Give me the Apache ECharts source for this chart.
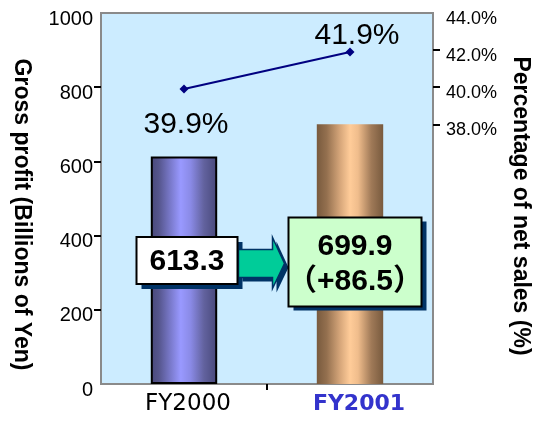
<!DOCTYPE html>
<html>
<head>
<meta charset="utf-8">
<script src="https://cdn.jsdelivr.net/npm/echarts@6/dist/echarts.min.js"></script>
<style>
html,body{margin:0;padding:0;background:#fff;}
#main{width:536px;height:421px;}
</style>
</head>
<body>
<div id="main"></div>
<script>
const categories = ['FY2000', 'FY2001'];
const grossProfit = [613.3, 699.9];
const netSalesPct = [39.9, 41.9];
const leftTickValues = [200, 400, 600, 800];
const rightLabelValues = [38, 40, 42, 44];
const rightTickValues = [38, 40, 42];
const boxPrev = '613.3';
const boxCurrLines = ['699.9', '（+86.5）'];

const FONT = 'Liberation Sans, Arial, sans-serif';
const chart = echarts.init(document.getElementById('main'), null, {renderer: 'canvas'});

function hGrad(stops) {
  return new echarts.graphic.LinearGradient(0, 0, 1, 0, stops.map(s => ({offset: s[0], color: s[1]})));
}
const barStyles = [
  {color: hGrad([[0,'#48487a'],[0.12,'#55558c'],[0.3,'#7a7acc'],[0.45,'#9999ff'],[0.6,'#8a8ae6'],[0.8,'#62629e'],[1,'#48487a']]), borderColor: '#000', borderWidth: 2},
  {color: hGrad([[0,'#785a3e'],[0.15,'#94704f'],[0.35,'#d6a67a'],[0.5,'#ffcc99'],[0.62,'#f0bd8c'],[0.82,'#a07a58'],[1,'#785a3e']]), borderWidth: 0}
];

const option = {
  animation: false,
  backgroundColor: '#ffffff',
  grid: {left: 101, right: 103, top: 13, bottom: 37, show: true, backgroundColor: '#CCECFF', borderColor: '#8a8a8a', borderWidth: 2, outerBoundsMode: 'none', containLabel: false},
  xAxis: [
    {
      type: 'category', data: categories,
      axisLine: {show: false}, axisTick: {show: false}, splitLine: {show: false},
      axisLabel: {
        margin: 9,
        formatter: v => v === categories[1] ? '{b|' + v + '}' : '{a|' + v + '}',
        rich: {
          a: {fontFamily: 'DejaVu Sans', fontSize: 23, color: '#000', padding: [0, 0, 0, 8]},
          b: {fontFamily: 'DejaVu Sans', fontSize: 22, fontWeight: 'bold', color: '#3333CC', padding: [0, 0, 0, 18]}
        }
      }
    },
    {
      type: 'value', min: 0, max: 2, position: 'bottom',
      axisLine: {show: false}, axisLabel: {show: false}, splitLine: {show: false},
      axisTick: {show: true, length: 6, customValues: [1], lineStyle: {color: '#000', width: 2}}
    }
  ],
  yAxis: [
    {
      type: 'value', min: 0, max: 1000, interval: 200,
      name: 'Gross profit (Billions of Yen)', nameLocation: 'middle', nameGap: 68, nameRotate: -90,
      nameTextStyle: {fontFamily: FONT, fontSize: 23, fontWeight: 'bold', color: '#000', padding: [0, 0, 0, 32]},
      axisLine: {show: false}, splitLine: {show: false},
      axisTick: {show: true, length: 7, customValues: leftTickValues, lineStyle: {color: '#000', width: 2}},
      axisLabel: {margin: 8, formatter: v => '{v|' + v + '}',
        rich: {v: {fontFamily: FONT, fontSize: 20, color: '#000', padding: [12, 0, 0, 0]}}}
    },
    {
      type: 'value', min: 24, max: 44, interval: 2, position: 'right',
      name: 'Percentage of net sales (%)', nameLocation: 'middle', nameGap: 76, nameRotate: -90,
      nameTextStyle: {fontFamily: FONT, fontSize: 23, fontWeight: 'bold', color: '#000', padding: [0, 0, 0, 15]},
      axisLine: {show: false}, splitLine: {show: false},
      axisTick: {show: true, length: 7, customValues: rightTickValues, lineStyle: {color: '#000', width: 2}},
      axisLabel: {customValues: rightLabelValues, margin: 13,
        formatter: v => '{v|' + v.toFixed(1) + '%}',
        rich: {v: {fontFamily: 'Liberation Sans Narrow, Arial Narrow, ' + FONT, fontSize: 18, color: '#000', padding: [12, 0, 0, 0]}}}
    }
  ],
  series: [
    {
      type: 'bar', xAxisIndex: 0, yAxisIndex: 0, barWidth: '40%',
      data: grossProfit.map((v, i) => ({value: v, itemStyle: barStyles[i]})),
      z: 2
    },
    {
      type: 'line', xAxisIndex: 0, yAxisIndex: 1,
      symbol: 'diamond', symbolSize: 9,
      lineStyle: {color: '#000080', width: 2}, itemStyle: {color: '#000080'},
      data: netSalesPct.map((v, i) => ({
        value: v,
        label: i === 0
          ? {show: true, position: 'bottom', distance: 16, offset: [2, 0]}
          : {show: true, position: 'top', distance: -3, offset: [7, 0]}
      })),
      label: {fontFamily: FONT, fontSize: 30, color: '#000', formatter: p => p.value.toFixed(1) + '%'},
      z: 5
    }
  ]
};
chart.setOption(option);

// annotation boxes anchored to the data space
const a0 = chart.convertToPixel({xAxisIndex: 0, yAxisIndex: 0}, [categories[0], 333]);
const a1 = chart.convertToPixel({xAxisIndex: 0, yAxisIndex: 0}, [categories[1], 329]);
const NAVY = '#003366';
const b1 = {x: a0[0] + 3 - 50.5, y: a0[1] - 23.5, w: 101, h: 47};
const b2 = {x: a1[0] + 5 - 66.5, y: a1[1] - 44.5, w: 133, h: 89};
const ay = a0[1] + 3;
const ax0 = b1.x + b1.w + 1, axH = b2.x - 16, axT = b2.x - 4;
const arrowPts = [[ax0, ay - 14], [axH, ay - 14], [axH, ay - 26], [axT, ay], [axH, ay + 25], [axH, ay + 14], [ax0, ay + 14]];

chart.setOption({
  graphic: [
    {type: 'polygon', shape: {points: arrowPts.map(p => [p[0] + 4, p[1] + 4])}, style: {fill: NAVY}, z: 100},
    {type: 'polygon', shape: {points: arrowPts}, style: {fill: '#00CC99', stroke: NAVY, lineWidth: 1.5}, z: 101},
    {type: 'rect', shape: {x: b1.x + 5, y: b1.y + 5, width: b1.w, height: b1.h}, style: {fill: NAVY}, z: 100},
    {type: 'rect', shape: {x: b1.x, y: b1.y, width: b1.w, height: b1.h}, style: {fill: '#ffffff', stroke: '#000', lineWidth: 2}, z: 102},
    {type: 'text', x: b1.x + b1.w / 2, y: b1.y + b1.h / 2 + 1, style: {text: boxPrev, fontFamily: FONT, fontWeight: 'bold', fontSize: 30, fill: '#000', align: 'center', verticalAlign: 'middle'}, z: 103},
    {type: 'rect', shape: {x: b2.x + 5, y: b2.y + 4, width: b2.w, height: b2.h}, style: {fill: NAVY}, z: 100},
    {type: 'rect', shape: {x: b2.x, y: b2.y, width: b2.w, height: b2.h}, style: {fill: '#CCFFCC', stroke: '#000', lineWidth: 2}, z: 102},
    {type: 'text', x: b2.x + b2.w / 2, y: b2.y + 29, style: {text: boxCurrLines[0], fontFamily: FONT, fontWeight: 'bold', fontSize: 30, fill: '#000', align: 'center', verticalAlign: 'middle'}, z: 103},
    {type: 'text', x: b2.x + b2.w / 2, y: b2.y + 64, style: {text: boxCurrLines[1], fontFamily: FONT + ', Noto Sans CJK JP', fontWeight: 'bold', fontSize: 30, fill: '#000', align: 'center', verticalAlign: 'middle'}, z: 103}
  ]
});
</script>
</body>
</html>
